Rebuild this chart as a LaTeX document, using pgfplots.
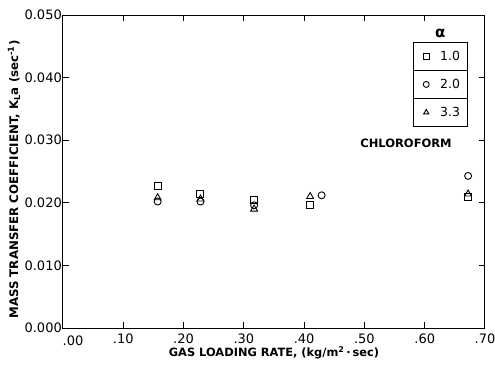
\documentclass[border=0pt]{standalone}
\usepackage{pgfplots}
\pgfplotsset{compat=1.18}
\usepackage{fontspec}
\setmainfont{DejaVu Sans}
\begin{document}
\begin{tikzpicture}
\useasboundingbox (-63pt,-37pt) rectangle (432pt,328pt);
\begin{axis}[
  at={(0pt,0pt)}, anchor=south west,
  scale only axis, width=422pt, height=313pt,
  xmin=0, xmax=0.7, ymin=0, ymax=0.05,
  scaled ticks=false,
  xtick={0,0.1,0.2,0.3,0.4,0.5,0.6,0.7},
  xticklabels={,\mbox{.10},\mbox{.20},\mbox{.30},\mbox{.40},\mbox{.50},\mbox{.60},\mbox{.70}},
  ytick={0,0.01,0.02,0.03,0.04,0.05},
  yticklabels={\mbox{0.000},\mbox{0.010},\mbox{0.020},\mbox{0.030},\mbox{0.040},\mbox{0.050}},
  /pgf/number format/assume math mode=true,
  tick align=inside, major tick length=6pt,
  axis line style={line width=1pt},
  every tick/.style={line width=1pt, black},
  ticklabel style={font=\fontsize{13}{15}\selectfont},
  yticklabel style={inner xsep=1pt},
  xticklabel style={inner ysep=2pt, yshift=-4pt},
  xlabel={GAS LOADING RATE, (kg/m\textsuperscript{2}\,·\,sec)},
  ylabel={MASS TRANSFER COEFFICIENT, K\textsubscript{L}a (sec\textsuperscript{-1})},
  every axis x label/.style={at={(axis description cs:0.5,0)}, anchor=center, yshift=-25pt, font=\bfseries\fontsize{11.4}{13}\selectfont},
  every axis y label/.style={at={(axis description cs:0,0.5)}, anchor=center, rotate=90, yshift=49pt, xshift=-8pt, font=\bfseries\fontsize{11.8}{13}\selectfont},
  legend style={name=leg, at={(axis description cs:0.829,0.9137)}, anchor=north west,
    draw=black, line width=0.8pt, inner sep=0pt, row sep=0pt, column sep=0pt,
    font=\fontsize{12.5}{14}\selectfont,
    nodes={minimum height=28pt, inner ysep=0pt, inner xsep=7pt}},
  legend cell align=left,
  legend image code/.code={\path[draw=none] (0pt,0pt) (20pt,0pt); \draw[#1, only marks, mark size=3pt] plot coordinates {(13pt,0pt)};},
]
\addplot[only marks, mark=square, mark size=3.5pt, line width=0.9pt, black] coordinates {
 (0.157,0.0227) (0.228,0.0214) (0.317,0.0204) (0.410,0.0197) (0.672,0.0210)};
\addlegendentry{1.0}
\addplot[only marks, mark=o, mark size=3.5pt, line width=0.9pt, black] coordinates {
 (0.157,0.0202) (0.228,0.0202) (0.317,0.0196) (0.429,0.0212) (0.672,0.0243)};
\addlegendentry{2.0}
\addplot[only marks, mark=triangle, mark size=4pt, line width=0.9pt, black] coordinates {
 (0.157,0.0208) (0.228,0.0206) (0.317,0.0190) (0.410,0.0210) (0.672,0.0214)};
\addlegendentry{3.3}
\node[font=\bfseries\fontsize{11.5}{14}\selectfont] at (axis cs:0.569,0.0295) {CHLOROFORM};
\end{axis}
\node[font=\fontsize{13}{15}\selectfont, anchor=north] at (10pt,-4pt) {.00};
\draw[line width=0.8pt] ([yshift=-28pt]leg.north west) -- ([yshift=-28pt]leg.north east);
\draw[line width=0.8pt] ([yshift=-56pt]leg.north west) -- ([yshift=-56pt]leg.north east);
\node[font=\bfseries\fontsize{15}{17}\selectfont] at ([yshift=9pt]leg.north) {α};
\end{tikzpicture}
\end{document}
